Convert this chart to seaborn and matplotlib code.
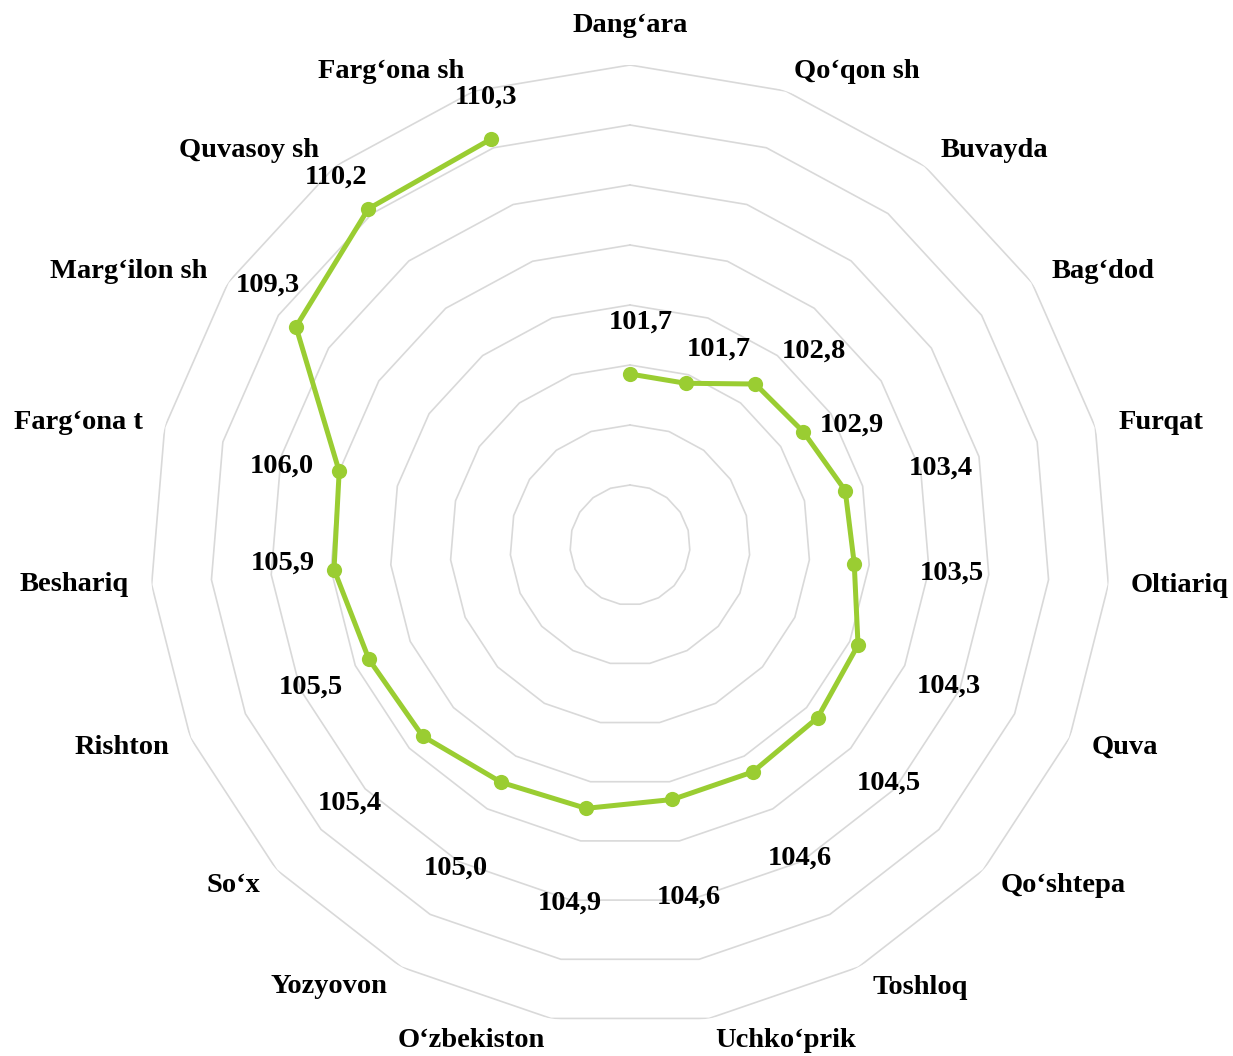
import numpy as np
import pandas as pd
import matplotlib
matplotlib.use("Agg")
import matplotlib.pyplot as plt
import seaborn as sns

categories = ["Dang‘ara", "Qo‘qon sh", "Buvayda", "Bag‘dod", "Furqat", "Oltiariq",
              "Quva", "Qo‘shtepa", "Toshloq", "Uchko‘prik", "O‘zbekiston", "Yozyovon",
              "So‘x", "Rishton", "Beshariq", "Farg‘ona t", "Marg‘ilon sh",
              "Quvasoy sh", "Farg‘ona sh"]
values = [101.7, 101.7, 102.8, 102.9, 103.4, 103.5, 104.3, 104.5, 104.6, 104.6,
          104.9, 105.0, 105.4, 105.5, 105.9, 106.0, 109.3, 110.2, 110.3]
value_labels = ["101,7", "101,7", "102,8", "102,9", "103,4", "103,5", "104,3", "104,5",
                "104,6", "104,6", "104,9", "105,0", "105,4", "105,5", "105,9", "106,0",
                "109,3", "110,2", "110,3"]

# layout (label placement in polar coords: degrees clockwise from top, radius in value units)
r_min, r_max, r_step = 96, 112, 2
dl_theta = [2.8, 24.4, 43.5, 61.6, 76.1, 95.0, 113.8, 132.6, 151.6, 170.5,
            189.5, 208.3, 227.4, 246.0, 267.0, 282.8, 305.7, 321.4, 342.1]
dl_r = [103.43, 103.17, 104.9, 104.4, 106.67, 106.77, 107.63, 107.73, 107.87, 107.9,
        108.1, 108.23, 108.7, 107.63, 107.6, 107.9, 110.87, 111.7, 111.67]
cat_theta = [0.0, 25.6, 42.7, 60.0, 77.0, 94.2, 112.2, 128.2, 146.7, 162.6,
             197.8, 214.3, 229.4, 248.3, 265.9, 282.5, 298.6, 316.0, 333.2]
cat_r_px = [520, 525, 537, 546, 545, 551, 534, 551, 529, 519,
            520, 535, 523, 547, 557, 565, 571, 548, 530]

line_color = "#9ACD32"
grid_color = "#D9D9D9"

sns.set_theme(style="white")
plt.rcParams["font.family"] = ["Liberation Serif", "DejaVu Serif"]

W, H = 1233, 1056
fig = plt.figure(figsize=(W / 100, H / 100), dpi=100)
cx, cy, R = 630, 545, 480
ax = fig.add_axes([(cx - R) / W, (H - cy - R) / H, 2 * R / W, 2 * R / H], projection="polar")
ax.set_theta_offset(np.pi / 2)
ax.set_theta_direction(-1)
ax.set_ylim(r_min, r_max)
ax.grid(False)
ax.spines["polar"].set_visible(False)
ax.set_xticks([])
ax.set_yticks([])
ax.set_facecolor("none")

n = len(categories)
angles = np.arange(n) * 2 * np.pi / n
closed_angles = np.append(angles, angles[0])

# polygon grid rings
for lvl in np.arange(r_min + r_step, r_max + 0.1, r_step):
    ax.plot(closed_angles, [lvl] * (n + 1), color=grid_color, lw=1.2, zorder=1)

df = pd.DataFrame({"theta": np.append(angles, angles[0]),
                   "value": values + [values[0]]})
sns.lineplot(data=df, x="theta", y="value", sort=False, ax=ax, color=line_color,
             lw=3.6, zorder=3, legend=False)
sns.scatterplot(data=df.iloc[:-1], x="theta", y="value", ax=ax, color=line_color,
                s=120, edgecolor=line_color, linewidth=0, zorder=4, legend=False)
ax.set_xlabel("")
ax.set_ylabel("")
ax.set_ylim(r_min, r_max)

fs = 20.5
for t, r, s in zip(dl_theta, dl_r, value_labels):
    ax.text(np.deg2rad(t), r, s, ha="center", va="center", fontsize=fs,
            fontweight="bold", color="black", zorder=5)

scale = (r_max - r_min) / R
for t, rp, s in zip(cat_theta, cat_r_px, categories):
    ax.text(np.deg2rad(t), r_min + rp * scale, s, ha="center", va="center",
            fontsize=fs, fontweight="bold", color="black", clip_on=False, zorder=5)

fig.savefig("out.png", dpi=100, facecolor="white")
